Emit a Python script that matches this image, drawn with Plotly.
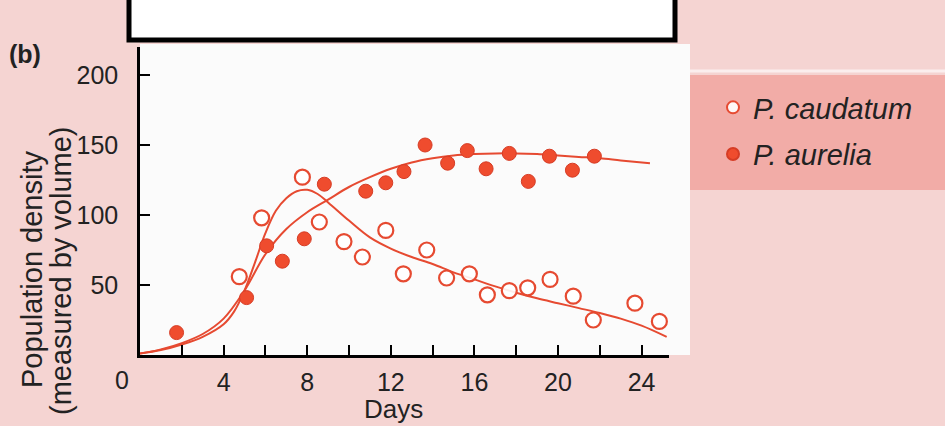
import plotly.graph_objects as go

# ---------------- data ----------------
caud_days = [4.75, 5.82, 7.77, 8.58, 9.76, 10.64, 11.76, 12.6, 13.72, 14.67, 15.76,
             16.62, 17.67, 18.55, 19.62, 20.73, 21.69, 23.68, 24.85]
caud_vals = [56, 98, 127, 95, 81, 70, 89, 58, 75, 55, 58,
             43, 46, 48, 54, 42, 25, 37, 24]

aur_days = [1.75, 5.1, 6.06, 6.81, 7.86, 8.82, 10.8, 11.76, 12.63, 13.64, 14.72,
            15.66, 16.56, 17.67, 18.58, 19.59, 20.69, 21.74]
aur_vals = [16, 41, 78, 67, 83, 122, 117, 123, 131, 150, 137,
            146, 133, 144, 124, 142, 132, 142]

caud_curve_days = [0, 1, 2, 3, 4, 4.5, 5, 5.5, 6, 6.5, 7, 7.5, 8, 8.5, 9, 10, 11, 12,
                   13, 14, 15, 16, 17, 18, 19, 20, 21, 22, 23, 24, 25.2]
caud_curve_vals = [1, 3.5, 7.5, 13, 22, 31, 46, 66, 87, 103, 112, 117, 118, 115, 109,
                   96, 84, 76, 70, 65, 59, 54, 49, 44.5, 40.5, 37, 33.5, 30, 26, 21, 13]

aur_curve_days = [0, 1, 2, 3, 4, 5, 6, 7, 8, 9, 10, 11, 12, 13, 14, 15, 16, 17, 18,
                  19, 20, 21, 22, 23, 24.4]
aur_curve_vals = [1, 4, 8.5, 15, 26, 46, 72, 90, 102, 111, 120, 127, 133, 137.5, 140.5,
                  142.5, 143.5, 144, 144, 143.5, 142.5, 141.5, 140.5, 139, 137]

x_tickvals = [2, 4, 6, 8, 10, 12, 14, 16, 18, 20, 22, 24]
x_ticktext = ["", "4", "", "8", "", "12", "", "16", "", "20", "", "24"]
y_tickvals = [50, 100, 150, 200]
y_ticktext = ["50", "100", "150", "200"]

name_caud = "P. caudatum"
name_aur = "P. aurelia"
x_title = "Days"
y_title_1 = "Population density"
y_title_2 = "(measured by volume)"
panel_label = "(b)"

# ---------------- layout geometry ----------------
W, H = 945, 426
L, R, T, B = 140, 276, 47, 71
PW, PH = W - L - R, H - T - B


def px(xp):
    return (xp - L) / PW


def py(yp):
    return (H - B - yp) / PH


RED = "#e64a31"
FILL = "#ef4c2e"
FONT = "Liberation Sans"
TXT = "#222222"

fig = go.Figure()

fig.add_trace(go.Scatter(x=caud_curve_days, y=caud_curve_vals, mode="lines",
                         line=dict(color=RED, width=2, shape="spline", smoothing=1.0),
                         showlegend=False, hoverinfo="skip"))
fig.add_trace(go.Scatter(x=aur_curve_days, y=aur_curve_vals, mode="lines",
                         line=dict(color=RED, width=2, shape="spline", smoothing=1.0),
                         showlegend=False, hoverinfo="skip"))
fig.add_trace(go.Scatter(x=caud_days, y=caud_vals, mode="markers", name=name_caud,
                         legendgroup="a",
                         marker=dict(symbol="circle", size=15, color="rgba(255,255,255,0.9)",
                                     line=dict(color=RED, width=2.2))))
fig.add_trace(go.Scatter(x=aur_days, y=aur_vals, mode="markers", name=name_aur,
                         legendgroup="b",
                         marker=dict(symbol="circle", size=14, color=FILL,
                                     line=dict(color="#d63c25", width=1))))

shapes = [
    # white plotting panel
    dict(type="rect", xref="paper", yref="paper", x0=px(140), x1=px(690), y0=py(355), y1=py(44),
         fillcolor="#fbfbfb", line=dict(width=0), layer="below"),
    # legend panel
    dict(type="rect", xref="paper", yref="paper", x0=px(690), x1=px(960), y0=py(190), y1=py(75),
         fillcolor="#f2aca7", line=dict(width=0), layer="below"),
    dict(type="line", xref="paper", yref="paper", x0=px(690), x1=px(960), y0=py(71), y1=py(71),
         line=dict(color="#fbeeee", width=3), layer="below"),
    # black framed box at the top
    dict(type="rect", xref="paper", yref="paper", x0=px(129), x1=px(675), y0=py(40), y1=py(-20),
         fillcolor="white", line=dict(color="black", width=5)),
]

annotations = [
    dict(text=y_title_1, xref="paper", yref="paper", x=px(32), y=py(270), textangle=-90,
         xanchor="center", yanchor="middle",
         showarrow=False, font=dict(family=FONT, size=29, color=TXT)),
    dict(text=y_title_2, xref="paper", yref="paper", x=px(61), y=py(271), textangle=-90,
         xanchor="center", yanchor="middle",
         showarrow=False, font=dict(family=FONT, size=29, color=TXT)),
    dict(text=x_title, xref="paper", yref="paper", x=px(393), y=py(409),
         xanchor="center", yanchor="middle",
         showarrow=False, font=dict(family=FONT, size=26, color=TXT)),
    dict(text="0", xref="x", yref="paper", x=0, xshift=-18, y=py(380),
         xanchor="center", yanchor="middle",
         showarrow=False, font=dict(family=FONT, size=25, color=TXT)),
    dict(text="<b>%s</b>" % panel_label, xref="paper", yref="paper", x=px(25), y=py(54),
         xanchor="center", yanchor="middle",
         showarrow=False, font=dict(family=FONT, size=25, color=TXT)),
]

fig.update_layout(
    width=W, height=H,
    margin=dict(l=L, r=R, t=T, b=B, pad=0),
    paper_bgcolor="#f5d4d2",
    plot_bgcolor="#fbfbfb",
    font=dict(family=FONT, size=24, color=TXT),
    showlegend=True,
    legend=dict(x=px(713), y=py(82), xanchor="left", yanchor="top",
                bgcolor="rgba(0,0,0,0)", borderwidth=0, itemsizing="constant",
                traceorder="grouped", tracegroupgap=6,
                font=dict(family=FONT, size=29, color=TXT, style="italic")),
    shapes=shapes,
    annotations=annotations,
    xaxis=dict(range=[0, PW / 20.9], showgrid=False, zeroline=False,
               showline=True, linecolor="black", linewidth=2.5,
               tickmode="array", tickvals=x_tickvals, ticktext=x_ticktext,
               ticks="inside", ticklen=10, tickwidth=2, tickcolor="black",
               ticklabelstandoff=3, tickfont=dict(family=FONT, size=25, color=TXT)),
    yaxis=dict(range=[0, PH / 1.4], showgrid=False, zeroline=False,
               showline=True, linecolor="black", linewidth=2.5,
               tickmode="array", tickvals=y_tickvals, ticktext=y_ticktext,
               ticks="inside", ticklen=10, tickwidth=2, tickcolor="black",
               ticklabelstandoff=14, tickfont=dict(family=FONT, size=25, color=TXT)),
)

fig.write_html("out.html", config={"displayModeBar": False},
               post_script="document.body.style.margin='0px';document.body.style.padding='0px';")
